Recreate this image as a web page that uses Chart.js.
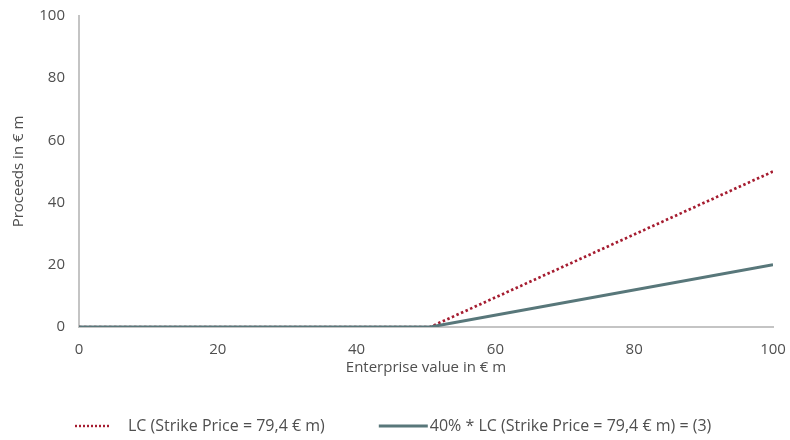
<!DOCTYPE html>
<html>
<head>
<meta charset="utf-8">
<script src="https://cdn.jsdelivr.net/npm/chart.js@4"></script>
<style>
  body { margin: 0; background: #fff; }
  #wrap { width: 790px; height: 440px; }
</style>
</head>
<body>
<div id="wrap"><canvas id="payoff"></canvas></div>
<script>
// enterprise value (x) and proceeds (y), in € m
const enterpriseValue = [0, 50.6, 100];
const lcProceeds = [0, 0, 50];
const shareProceeds = [0, 0, 20];
const seriesNames = [
  "LC (Strike Price = 79,4 € m)",
  "40% * LC (Strike Price = 79,4 € m) = (3)"
];
const xTicks = [0, 20, 40, 60, 80, 100];
const yTicks = [0, 20, 40, 60, 80, 100];

const FONT = "'Open Sans', 'Liberation Sans', sans-serif";
const FONT_SIZE = 15;
const TEXT = "#4f4f4f";
const AXIS = "#c4c4c4";
const RED = "#a51c30";
const SLATE = "#58777a";

function toPoints(ys) {
  return enterpriseValue.map((x, i) => ({ x: x, y: ys[i] }));
}

// legend row under the x axis title: line sample + label per dataset
const bottomLegend = {
  id: "bottomLegend",
  afterDraw(chart) {
    const ctx = chart.ctx;
    const y = 426;
    const spacing = 54;
    ctx.save();
    ctx.font = "16px " + FONT;
    let x = 75;
    chart.data.datasets.forEach((ds) => {
      const s = ds.legendSample;
      ctx.strokeStyle = ds.borderColor;
      ctx.lineWidth = s.width;
      ctx.setLineDash(s.dash || []);
      ctx.beginPath();
      ctx.moveTo(x, y);
      ctx.lineTo(x + s.length, y);
      ctx.stroke();
      x += s.length + s.gap;
      ctx.fillStyle = TEXT;
      ctx.textBaseline = "middle";
      ctx.fillText(ds.label, x, y);
      x += ctx.measureText(ds.label).width + spacing;
    });
    ctx.restore();
  }
};

new Chart(document.getElementById("payoff"), {
  type: "line",
  data: {
    datasets: [
      {
        label: seriesNames[0],
        data: toPoints(lcProceeds),
        borderColor: RED,
        borderWidth: 2.7,
        borderDash: [2.5, 2.5],
        legendSample: { length: 35, gap: 18, width: 2.4, dash: [2, 2] },
        pointRadius: 0,
        order: 1
      },
      {
        label: seriesNames[1],
        data: toPoints(shareProceeds),
        borderColor: SLATE,
        borderWidth: 3,
        legendSample: { length: 49, gap: 2, width: 3 },
        pointRadius: 0,
        order: 0
      }
    ]
  },
  options: {
    responsive: true,
    maintainAspectRatio: false,
    animation: false,
    layout: { padding: { left: 0, right: 17, top: 16, bottom: 63 } },
    scales: {
      x: {
        type: "linear",
        min: 0,
        max: 100,
        afterBuildTicks: (axis) => { axis.ticks = xTicks.map(v => ({ value: v })); },
        afterFit: (axis) => {
          axis.height = 50;
          axis.paddingLeft = 0;
          axis.paddingRight = 0;
        },
        grid: { display: false, drawTicks: false },
        border: { color: AXIS, width: 2 },
        ticks: { color: TEXT, font: { family: FONT, size: FONT_SIZE }, padding: 14, maxRotation: 0 },
        title: {
          display: true,
          text: "Enterprise value in € m",
          color: TEXT,
          font: { family: FONT, size: FONT_SIZE },
          padding: { top: 0, bottom: 0 }
        }
      },
      y: {
        min: 0,
        max: 100,
        afterBuildTicks: (axis) => { axis.ticks = yTicks.map(v => ({ value: v })); },
        afterFit: (axis) => {
          axis.width = 79;
          axis.paddingTop = 0;
          axis.paddingBottom = 0;
        },
        grid: { display: false, drawTicks: false },
        border: { color: AXIS, width: 2 },
        ticks: { color: TEXT, font: { family: FONT, size: FONT_SIZE }, padding: 14 },
        title: {
          display: true,
          text: "Proceeds in € m",
          color: TEXT,
          font: { family: FONT, size: FONT_SIZE },
          padding: { top: 10, bottom: 0 }
        }
      }
    },
    plugins: {
      tooltip: { enabled: false },
      legend: { display: false }
    }
  },
  plugins: [bottomLegend]
});
</script>
</body>
</html>
